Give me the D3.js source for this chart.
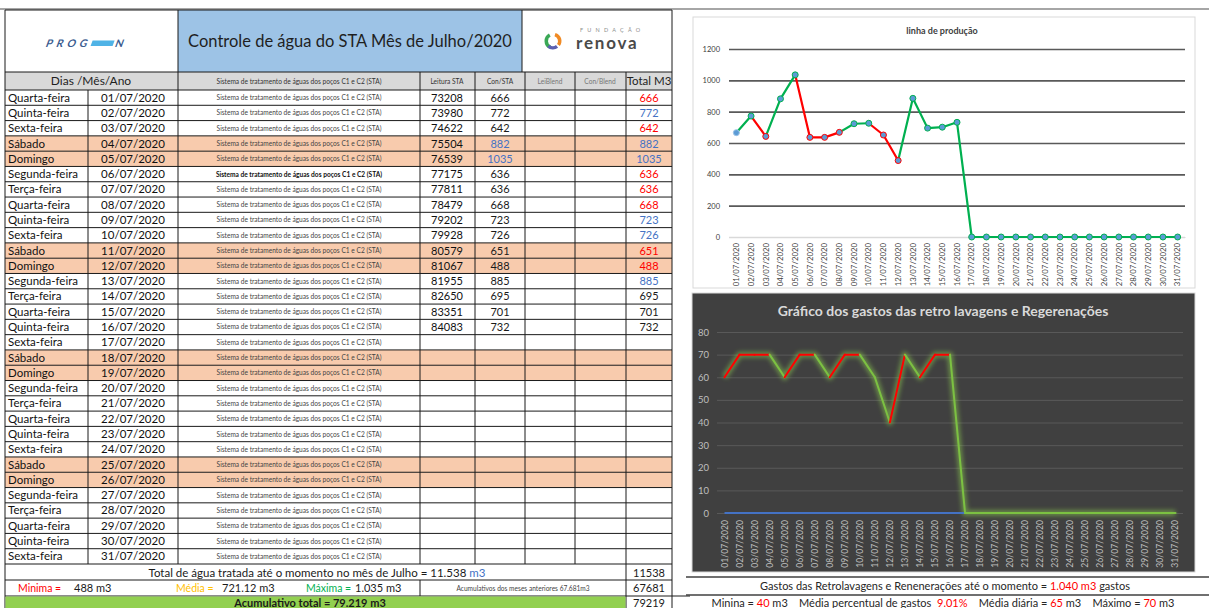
<!DOCTYPE html>
<html>
<head>
<meta charset="utf-8">
<script src="https://cdn.jsdelivr.net/npm/d3@7"></script>
<style>
  body { margin: 0; background: #fff; }
  svg { display: block; font-family: Lato, "Liberation Sans", sans-serif; }
</style>
</head>
<body>
<svg id="chart" width="1209" height="608"></svg>
<script>
// ---- data ----
const weekdays = [
  "Quarta-feira", "Quinta-feira", "Sexta-feira", "Sábado", "Domingo", "Segunda-feira", "Terça-feira",
  "Quarta-feira", "Quinta-feira", "Sexta-feira", "Sábado", "Domingo", "Segunda-feira", "Terça-feira",
  "Quarta-feira", "Quinta-feira", "Sexta-feira", "Sábado", "Domingo", "Segunda-feira", "Terça-feira",
  "Quarta-feira", "Quinta-feira", "Sexta-feira", "Sábado", "Domingo", "Segunda-feira", "Terça-feira",
  "Quarta-feira", "Quinta-feira", "Sexta-feira",
];
const dates = [
  "01/07/2020", "02/07/2020", "03/07/2020", "04/07/2020", "05/07/2020", "06/07/2020", "07/07/2020",
  "08/07/2020", "09/07/2020", "10/07/2020", "11/07/2020", "12/07/2020", "13/07/2020", "14/07/2020",
  "15/07/2020", "16/07/2020", "17/07/2020", "18/07/2020", "19/07/2020", "20/07/2020", "21/07/2020",
  "22/07/2020", "23/07/2020", "24/07/2020", "25/07/2020", "26/07/2020", "27/07/2020", "28/07/2020",
  "29/07/2020", "30/07/2020", "31/07/2020",
];
const leitura = [73208, 73980, 74622, 75504, 76539, 77175, 77811, 78479, 79202, 79928, 80579, 81067, 81955, 82650, 83351, 84083];
const consumo = [666, 772, 642, 882, 1035, 636, 636, 668, 723, 726, 651, 488, 885, 695, 701, 732];
// colour flag of each value in the sheet
const conFlag = ["k", "k", "k", "b", "b", "k", "k", "k", "k", "k", "k", "k", "k", "k", "k", "k"];
const totalFlag = ["r", "b", "r", "b", "b", "r", "r", "r", "b", "b", "r", "r", "b", "k", "k", "k"];

const producao = [666, 772, 642, 882, 1035, 636, 636, 668, 723, 726, 651, 488, 885, 695, 701, 732,
  0, 0, 0, 0, 0, 0, 0, 0, 0, 0, 0, 0, 0, 0, 0];
const gastos = [60, 70, 70, 70, 60, 70, 70, 60, 70, 70, 60, 40, 70, 60, 70, 70,
  0, 0, 0, 0, 0, 0, 0, 0, 0, 0, 0, 0, 0, 0, 0];
const gastosBase = [0, 0, 0, 0, 0, 0, 0, 0, 0, 0, 0, 0, 0, 0, 0, 0, 0];

const prodTicks = [0, 200, 400, 600, 800, 1000, 1200];
const gastosTicks = [0, 10, 20, 30, 40, 50, 60, 70, 80];

const SISTEMA = "Sistema de tratamento de águas dos poços C1 e C2 (STA)";
const RED = "#ff0000", BLUE = "#4472c4", GREEN = "#00b050";
const flagColor = { r: RED, b: BLUE, k: "#1a1a1a" };

const svg = d3.select("#chart");

// ================= TABLE =================
const colX = [5, 88, 178, 420, 475, 525, 575, 626, 672];
const rowY = d3.scaleBand().domain(dates).range([90, 564]);
const rh = rowY.bandwidth();

svg.append("line").attr("x1", 0).attr("x2", 1209).attr("y1", 9).attr("y2", 9)
  .attr("stroke", "#a6a6a6").attr("stroke-width", 2);

const head = svg.append("g");
head.append("rect").attr("x", 5).attr("y", 10).attr("width", 173).attr("height", 62).attr("fill", "#fff");
head.append("rect").attr("x", 178).attr("y", 10).attr("width", 344).attr("height", 62).attr("fill", "#9dc3e6");
head.append("rect").attr("x", 522).attr("y", 10).attr("width", 150).attr("height", 62).attr("fill", "#fff");
head.append("text").attr("x", 350).attr("y", 47).attr("text-anchor", "middle")
  .attr("font-size", 16.5).attr("fill", "#1f1f1f").text("Controle de água do STA Mês de Julho/2020");

// PROGEN logo
const pg = head.append("g").attr("transform", "translate(45,47) skewX(-20)");
const pgText = pg.append("text").attr("x", 0).attr("y", 0).attr("font-size", 10.5).attr("font-weight", 700)
  .style("letter-spacing", "4px").attr("fill", "#3b5c8f").text("PROG");
const pgW = pgText.node().getBBox().width;
pg.append("rect").attr("x", pgW).attr("y", -6.5).attr("width", 22).attr("height", 5.5).attr("fill", "#4fb3e6");
pg.append("text").attr("x", pgW + 24).attr("y", 0).attr("font-size", 10.5).attr("font-weight", 700)
  .attr("fill", "#3b5c8f").text("N");

// renova logo
const rn = head.append("g").attr("transform", "translate(553,41)");
const arc = d3.arc().innerRadius(5).outerRadius(8.5);
[["#3aa856", -2.7, -0.5], ["#f08a24", 0.3, 2.2], ["#5b5fb0", 2.5, 3.9]].forEach(([c, a0, a1]) => {
  rn.append("path").attr("d", arc({ startAngle: a0, endAngle: a1 })).attr("fill", c);
});
head.append("text").attr("x", 580).attr("y", 32).attr("font-size", 5.5).style("letter-spacing", "4.2px")
  .attr("fill", "#8c8c8c").text("FUNDAÇÃO");
head.append("text").attr("x", 576).attr("y", 49).attr("font-size", 17).attr("font-weight", 700)
  .style("letter-spacing", "1.8px").attr("fill", "#4a4a4a").text("renova");

// column header row
const ch = svg.append("g");
ch.append("rect").attr("x", 5).attr("y", 72).attr("width", 667).attr("height", 18).attr("fill", "#d9d9d9");
const colHeads = [
  { t: "Dias /Mês/Ano", x: 91, s: 12, c: "#1f1f1f" },
  { t: SISTEMA, x: 299, s: 6.6, c: "#333" },
  { t: "Leitura STA", x: 447, s: 6.6, c: "#333" },
  { t: "Con/STA", x: 500, s: 6.6, c: "#333" },
  { t: "LeiBlend", x: 550, s: 6.6, c: "#777" },
  { t: "Con/Blend", x: 600, s: 6.6, c: "#777" },
  { t: "Total M3", x: 649, s: 11.5, c: "#1f1f1f" },
];
ch.selectAll("text").data(colHeads).join("text")
  .attr("x", (d) => d.x).attr("y", (d) => (d.s > 10 ? 85 : 83.5))
  .attr("text-anchor", "middle").attr("font-size", (d) => d.s).attr("fill", (d) => d.c)
  .text((d) => d.t);

// data rows
const rows = svg.append("g").selectAll("g").data(dates).join("g")
  .attr("transform", (d) => `translate(0,${rowY(d)})`);
rows.append("rect").attr("x", 5).attr("width", 667).attr("height", rh)
  .attr("fill", (d, i) => (weekdays[i] === "Sábado" || weekdays[i] === "Domingo" ? "#f8cbad" : "#fff"));
rows.append("text").attr("x", 8).attr("y", rh / 2 + 4).attr("font-size", 11.5).attr("fill", "#111")
  .text((d, i) => weekdays[i]);
rows.append("text").attr("x", 133).attr("y", rh / 2 + 4).attr("text-anchor", "middle")
  .attr("font-size", 11.5).attr("fill", "#111").text((d) => d);
rows.append("text").attr("x", 299).attr("y", rh / 2 + 2.5).attr("text-anchor", "middle")
  .attr("font-size", 6.6).attr("fill", (d, i) => (i === 5 ? "#111" : "#444"))
  .attr("font-weight", (d, i) => (i === 5 ? 700 : 400)).text(SISTEMA);
rows.append("text").attr("x", 447).attr("y", rh / 2 + 4).attr("text-anchor", "middle")
  .attr("font-size", 11).attr("fill", "#111").text((d, i) => (leitura[i] != null ? leitura[i] : ""));
rows.append("text").attr("x", 500).attr("y", rh / 2 + 4).attr("text-anchor", "middle")
  .attr("font-size", 11).attr("fill", (d, i) => flagColor[conFlag[i]] || "#111")
  .text((d, i) => (consumo[i] != null ? consumo[i] : ""));
rows.append("text").attr("x", 649).attr("y", rh / 2 + 4).attr("text-anchor", "middle")
  .attr("font-size", 11).attr("fill", (d, i) => flagColor[totalFlag[i]] || "#111")
  .text((d, i) => (consumo[i] != null ? consumo[i] : ""));

// grid lines of the table
const tl = svg.append("g").attr("stroke", "#1a1a1a").attr("stroke-width", 1);
dates.forEach((d) => {
  tl.append("line").attr("x1", 5).attr("x2", 672).attr("y1", rowY(d)).attr("y2", rowY(d));
});
[72, 564, 580, 596].forEach((y) => tl.append("line").attr("x1", 5).attr("x2", 672).attr("y1", y).attr("y2", y));
colX.forEach((x) => {
  let y1 = 72;
  if (x === 88) y1 = 90;
  if (x === 5 || x === 672) y1 = 10;
  tl.append("line").attr("x1", x).attr("x2", x).attr("y1", y1).attr("y2", 564);
});
[178, 522].forEach((x) => tl.append("line").attr("x1", x).attr("x2", x).attr("y1", 10).attr("y2", 72));
tl.append("line").attr("x1", 5).attr("x2", 672).attr("y1", 10).attr("y2", 10);
[5, 626, 672].forEach((x) => tl.append("line").attr("x1", x).attr("x2", x).attr("y1", 564).attr("y2", 608));
tl.append("line").attr("x1", 420).attr("x2", 420).attr("y1", 580).attr("y2", 596);
tl.append("line").attr("x1", 672).attr("x2", 690).attr("y1", 596).attr("y2", 596);

// summary rows
const sm = svg.append("g").attr("font-size", 11.5).attr("fill", "#1a1a1a").style("white-space", "pre");
sm.append("rect").attr("x", 5.5).attr("y", 596.5).attr("width", 620).attr("height", 12).attr("fill", "#92d050");
const t1 = sm.append("text").attr("x", 317).attr("y", 577).attr("text-anchor", "middle");
t1.append("tspan").text("Total de água tratada até o momento no mês de Julho  =  11.538 ");
t1.append("tspan").attr("fill", BLUE).text("m3");
sm.append("text").attr("x", 18).attr("y", 592).attr("fill", RED).attr("font-size", 10.5).text("Minima =");
sm.append("text").attr("x", 74).attr("y", 592).attr("font-size", 11).text("488  m3");
sm.append("text").attr("x", 176).attr("y", 592).attr("fill", "#ffc000").attr("font-size", 10.5).text("Média =");
sm.append("text").attr("x", 222).attr("y", 592).attr("font-size", 11).text("721.12 m3");
sm.append("text").attr("x", 306).attr("y", 592).attr("fill", GREEN).attr("font-size", 10.5).text("Máxima =");
sm.append("text").attr("x", 355).attr("y", 592).attr("font-size", 11).text("1.035 m3");
sm.append("text").attr("x", 523).attr("y", 591).attr("text-anchor", "middle").attr("font-size", 6.6)
  .attr("fill", "#444").text("Acumulativos dos meses anteriores   67.681m3");
sm.append("text").attr("x", 310).attr("y", 607).attr("text-anchor", "middle").attr("font-weight", 700)
  .attr("font-size", 11).text("Acumulativo total = 79.219 m3");
[["11538", 577], ["67681", 592], ["79219", 607]].forEach(([t, y]) => {
  sm.append("text").attr("x", 649).attr("y", y).attr("text-anchor", "middle").attr("font-size", 11).text(t);
});

// ================= TOP CHART: linha de produção =================
const prodG = svg.append("g");
prodG.append("rect").attr("x", 693).attr("y", 17).attr("width", 502).attr("height", 271)
  .attr("fill", "#fff").attr("stroke", "#d9d9d9");
prodG.append("text").attr("x", 942).attr("y", 34).attr("text-anchor", "middle").attr("font-size", 9)
  .attr("font-weight", 700).attr("fill", "#404040").text("linha de produção");

const xP = d3.scaleBand().domain(dates).range([729, 1185]);
const yP = d3.scaleLinear().domain([0, 1200]).range([237, 49]);
const cxP = (i) => xP(dates[i]) + xP.bandwidth() / 2;

const gyP = prodG.append("g").attr("transform", "translate(729,0)")
  .call(d3.axisLeft(yP).tickValues(prodTicks).tickFormat(d3.format("d"))
    .tickSize(-(1185 - 729)).tickPadding(9));
gyP.select(".domain").remove();
gyP.selectAll("line").attr("stroke", (d) => (d === 0 ? "#d9d9d9" : "#595959")).attr("stroke-width", 1.6);
gyP.selectAll("text").attr("font-size", 7.5).attr("fill", "#404040").attr("font-family", "Lato, sans-serif");

const gxP = prodG.append("g").attr("transform", "translate(0,237)")
  .call(d3.axisBottom(xP).tickSize(0));
gxP.select(".domain").attr("stroke", "#d9d9d9");
gxP.selectAll("text").attr("transform", "rotate(-90)").attr("text-anchor", "end")
  .attr("x", -6).attr("y", 0).attr("dy", "0.35em")
  .attr("font-size", 7.8).attr("fill", "#404040").attr("font-family", "Lato, sans-serif");

const prodColor = (i) => (i < totalFlag.length && totalFlag[i] === "r" ? RED : "#00b050");
const lineP = d3.line().x((i) => cxP(i)).y((i) => yP(producao[i]));
prodG.append("g").selectAll("path").data(d3.range(1, producao.length)).join("path")
  .attr("d", (i) => lineP([i - 1, i])).attr("fill", "none")
  .attr("stroke", (i) => prodColor(i)).attr("stroke-width", 2.2).attr("stroke-linecap", "round");
prodG.append("g").selectAll("circle").data(producao).join("circle")
  .attr("cx", (d, i) => cxP(i)).attr("cy", (d) => yP(d)).attr("r", 3)
  .attr("fill", "#5b9bd5").attr("stroke", (d, i) => (i === 0 ? "#9dc3e6" : prodColor(i)))
  .attr("stroke-width", 1);

// ================= BOTTOM CHART: gastos =================
const gastG = svg.append("g");
const defs = svg.append("defs");
defs.append("filter").attr("id", "glow").attr("x", "-10%").attr("y", "-10%").attr("width", "120%").attr("height", "120%")
  .append("feGaussianBlur").attr("stdDeviation", 2.2);

gastG.append("rect").attr("x", 692).attr("y", 293).attr("width", 503).attr("height", 279)
  .attr("fill", "#404040").attr("stroke", "#d9d9d9");
gastG.append("text").attr("x", 943).attr("y", 316).attr("text-anchor", "middle").attr("font-size", 14)
  .attr("font-weight", 700).attr("fill", "#d9d9d9").text("Gráfico dos gastos das retro lavagens e Regerenações");

const xG = d3.scaleBand().domain(dates).range([717, 1183]);
const yG = d3.scaleLinear().domain([0, 80]).range([513, 332]);
const cxG = (i) => xG(dates[i]) + xG.bandwidth() / 2;

const gyG = gastG.append("g").attr("transform", "translate(717,0)")
  .call(d3.axisLeft(yG).tickValues(gastosTicks).tickSize(-(1183 - 717)).tickPadding(8));
gyG.select(".domain").remove();
gyG.selectAll("line").attr("stroke", "#595959").attr("stroke-width", 1);
gyG.selectAll("text").attr("font-size", 9.5).attr("fill", "#bfbfbf").attr("font-family", "Lato, sans-serif");

const gxG = gastG.append("g").attr("transform", "translate(0,513)")
  .call(d3.axisBottom(xG).tickSize(0));
gxG.select(".domain").remove();
gxG.selectAll("text").attr("transform", "rotate(-90)").attr("text-anchor", "end")
  .attr("x", -7).attr("y", 0).attr("dy", "0.35em")
  .attr("font-size", 8.6).attr("fill", "#bfbfbf").attr("font-family", "Lato, sans-serif");

const lineG = d3.line().x((i) => cxG(i)).y((i) => yG(gastos[i]));
gastG.append("path").attr("d", lineG(d3.range(gastos.length))).attr("fill", "none")
  .attr("stroke", "#8fd14f").attr("stroke-opacity", 0.5).attr("stroke-width", 6)
  .attr("stroke-linejoin", "round").attr("filter", "url(#glow)");
gastG.append("path")
  .attr("d", d3.line().x((d, i) => cxG(i)).y((d) => yG(d))(gastosBase))
  .attr("fill", "none").attr("stroke", BLUE).attr("stroke-width", 2);
const segColor = (i) => (gastos[i] >= gastos[i - 1] && gastos[i] > 0 ? "#ff0000" : "#7cc142");
gastG.append("g").selectAll("path").data(d3.range(1, gastos.length)).join("path")
  .attr("d", (i) => lineG([i - 1, i])).attr("fill", "none")
  .attr("stroke", (i) => segColor(i)).attr("stroke-width", 2).attr("stroke-linecap", "round");

// ================= right-hand summary =================
const rs = svg.append("g").attr("font-size", 11).attr("fill", "#262626");
[577, 595].forEach((y) => rs.append("line").attr("x1", 686).attr("x2", 1209).attr("y1", y).attr("y2", y)
  .attr("stroke", "#404040").attr("stroke-width", 1.5));
const r1 = rs.append("text").attr("x", 945).attr("y", 590).attr("text-anchor", "middle");
r1.append("tspan").text("Gastos das Retrolavagens e Reneneraçōes até o momento = ");
r1.append("tspan").attr("fill", RED).text("1.040 m3");
r1.append("tspan").text(" gastos");
const r2 = rs.append("text").attr("x", 943).attr("y", 607).attr("text-anchor", "middle")
  .style("white-space", "pre");
[["Minina = ", null], ["40", RED], [" m3    Média percentual de gastos  ", null], ["9.01%", RED],
 ["    Média diária = ", null], ["65", RED], [" m3    Máximo = ", null], ["70", RED], [" m3", null]]
  .forEach(([t, c]) => {
    const ts = r2.append("tspan").text(t);
    if (c) ts.attr("fill", c);
  });
</script>
</body>
</html>
